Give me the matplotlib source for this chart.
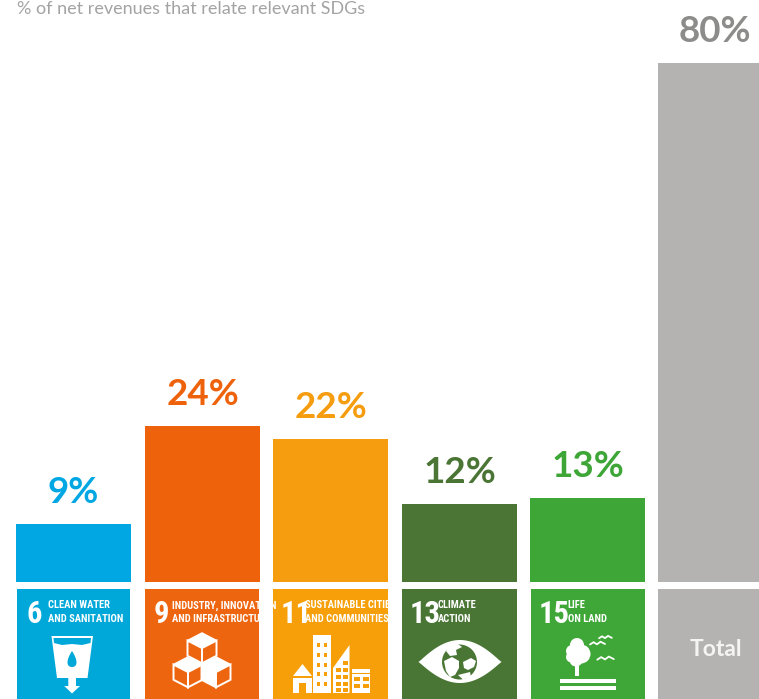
import matplotlib
matplotlib.use("Agg")
import matplotlib.pyplot as plt
from matplotlib.patches import Polygon, Circle, Ellipse, Rectangle, PathPatch
from matplotlib.path import Path
import numpy as np

W, H = 759, 699
DPI = 100

# Chart data
goal_numbers = ["6", "9", "11", "13", "15"]
goal_line1 = ["CLEAN WATER", "INDUSTRY, INNOVATION", "SUSTAINABLE CITIES", "CLIMATE", "LIFE"]
goal_line2 = ["AND SANITATION", "AND INFRASTRUCTURE", "AND COMMUNITIES", "ACTION", "ON LAND"]
goal_values = [9, 24, 22, 12, 13]
total_label = "Total"
total_value = 80
title_text = "% of net revenues that relate relevant SDGs"

# Styling
bar_colors = ["#00A7E3", "#EE620B", "#F59C0F", "#4A7535", "#3DA636"]
tile_colors = ["#00A8D9", "#EE650F", "#F69F08", "#4A7635", "#3FA737"]
value_colors = ["#00A7E3", "#EE620B", "#F59C0F", "#4A7535", "#3DA636"]
grey = "#B4B3B1"
total_text_color = "#8C8C8B"
title_color = "#A3A3A3"
BAR_LEFT = [16, 145, 273, 402, 530, 658]
BAR_RIGHT = [131, 260, 388, 517, 645, 759]
TILE_LEFT = [17, 145, 273, 402, 531, 658]
TILE_RIGHT = [130, 259, 388, 517, 645, 759]
NARROW = ["Liberation Sans Narrow", "Roboto Condensed", "Liberation Sans"]
LABEL_FONT = "Lato"

fig = plt.figure(figsize=(W / DPI, H / DPI), dpi=DPI, facecolor="white")

# Bars: the vertical scale puts 0 at the baseline and 80 at the top of the total bar
ax = fig.add_axes([0, 1 - 582 / H, 1, (582 - 63) / H])
ax.set_xlim(0, W)
ax.set_ylim(0, total_value)
ax.axis("off")
values = goal_values + [total_value]
colors = bar_colors + [grey]
lefts = np.array(BAR_LEFT)
widths = np.array(BAR_RIGHT) - lefts
ax.bar(lefts, values, width=widths, align="edge", color=colors, linewidth=0)
for left, w, v, c in zip(lefts, widths, values, value_colors + [total_text_color]):
    cx = left + w / 2 if v != total_value else 715
    ax.annotate(f"{v}%", (cx, v), xytext=(0, 15), textcoords="offset points",
                ha="center", va="baseline", fontsize=26.5, fontweight="bold",
                family=LABEL_FONT, color=c, annotation_clip=False)

# Tile layer uses pixel coordinates with the origin at the top left
px = fig.add_axes([0, 0, 1, 1], zorder=3)
px.set_xlim(0, W)
px.set_ylim(H, 0)
px.axis("off")
px.patch.set_alpha(0)

px.text(17, 13.5, title_text, ha="left", va="baseline", fontsize=13,
        family=LABEL_FONT, color=title_color)

for i, (l, r) in enumerate(zip(TILE_LEFT, TILE_RIGHT)):
    fc = (tile_colors + [grey])[i]
    px.add_patch(Rectangle((l, 589), r - l, H - 589, fc=fc, ec="none"))

number_x = [27, 154, 281, 410, 539]
label_x = [48.5, 172, 305, 437.5, 567.5]
for n, a, b, nx, lx in zip(goal_numbers, goal_line1, goal_line2, number_x, label_x):
    px.text(nx, 611, n, ha="left", va="center_baseline", fontsize=22, fontweight="bold",
            family=NARROW, color="white")
    px.text(lx, 608.5, a, ha="left", va="baseline", fontsize=7.6, fontweight="bold",
            family=NARROW, color="white")
    px.text(lx, 622, b, ha="left", va="baseline", fontsize=7.6, fontweight="bold",
            family=NARROW, color="white")
px.text(716, 649, total_label, ha="center", va="center", fontsize=16.5, fontweight="bold",
        family=LABEL_FONT, color="#F4F4F3")


def white(poly, fc="white", **kw):
    px.add_patch(Polygon(poly, closed=True, fc=fc, ec="none", **kw))


# Water glass with a drop and an outflow arrow
def glass_icon(fc):
    white([(51.5, 636), (93, 636), (87.5, 678), (57, 678)])
    px.add_patch(Polygon([(53.5, 638), (91, 638), (90.5, 643), (82, 645), (72, 644),
                          (62, 645), (54, 643)], closed=True, fc=fc, ec="none"))
    drop = Path([(72, 651), (66, 660), (66, 667), (72, 667), (78, 667), (78, 660), (72, 651)],
                [Path.MOVETO] + [Path.CURVE4] * 6)
    px.add_patch(PathPatch(drop, fc=fc, ec="none"))
    white([(68.3, 678), (76, 678), (76, 686), (80, 686), (72, 693.5), (64.3, 686), (68.3, 686)])


# Three stacked cubes drawn as outlines
def cubes_icon(fc):
    def cube(cx, top, s, fill_left=False, fill_right=False):
        dx, dy = s, s * 0.52
        T = (cx, top)
        Rr = (cx + dx, top + dy)
        C = (cx, top + 2 * dy)
        Ll = (cx - dx, top + dy)
        B = (cx, top + 2 * dy + s * 1.05)
        BR = (cx + dx, top + dy + s * 1.05)
        BL = (cx - dx, top + dy + s * 1.05)
        px.add_patch(Polygon([T, Rr, C, Ll], closed=True, fc="white", ec="white", lw=1.1))
        px.add_patch(Polygon([Ll, C, B, BL], closed=True,
                             fc="white" if fill_left else fc, ec="white", lw=1.4))
        px.add_patch(Polygon([Rr, C, B, BR], closed=True,
                             fc="white" if fill_right else fc, ec="white", lw=1.4))
    cube(202, 633, 14.5)
    cube(188, 657, 14.5, fill_right=False)
    cube(216, 657, 14.5, fill_left=True)


# City skyline with windows
def city_icon(fc):
    white([(293, 676), (302.5, 664), (312, 676)])
    px.add_patch(Rectangle((293, 677.5), 18.5, 15.5, fc="white", ec="none"))
    px.add_patch(Rectangle((299, 683), 6.5, 10, fc=fc, ec="none"))
    px.add_patch(Rectangle((313, 635), 17.5, 58, fc="white", ec="none"))
    for row in range(5):
        for col in range(2):
            px.add_patch(Rectangle((316.5 + col * 7.3, 643 + row * 9.8), 3.6, 4, fc=fc, ec="none"))
    white([(333, 668), (349.5, 645), (349.5, 693), (333, 693)])
    for yy in [661, 668, 675, 682, 688]:
        for xx in [335.5, 343]:
            if not (yy < 668 and xx < 340):
                px.add_patch(Rectangle((xx, yy), 5.2, 3.6, fc=fc, ec="none"))
    px.add_patch(Rectangle((352, 669), 18, 24, fc="white", ec="none"))
    px.add_patch(Rectangle((352, 673), 18, 1.3, fc=fc, ec="none"))
    for yy in [677, 684]:
        for xx in [354, 363]:
            px.add_patch(Rectangle((xx, yy), 6, 4.3, fc=fc, ec="none"))


# Eye with the globe as its iris
def eye_icon(fc):
    t = np.linspace(-1, 1, 60)
    upper = [(418.5 + (t_ + 1) * 41.5, 662 - 22 * (1 - t_ ** 2) ** 1.1) for t_ in t]
    lower = [(418.5 + (t_ + 1) * 41.5, 662 + 21 * (1 - t_ ** 2) ** 1.1) for t_ in t[::-1]]
    white(upper + lower)
    px.add_patch(Circle((459.5, 662), 17.5, fc=fc, ec="none"))
    white([(449, 646), (457, 643.5), (462, 647), (456, 650), (457, 655), (450, 656), (446, 651)])
    white([(444, 661), (452, 657), (459, 661), (459, 668), (455, 675), (450, 677), (446, 671)])
    white([(463, 662), (471, 658), (476, 661), (474, 667), (468, 670), (464, 668)])
    white([(458, 675), (470, 672), (471, 677), (463, 679.5)])


# Tree, birds and ground lines
def tree_icon(fc):
    for c, r in [((577, 645), 7), ((572, 651), 6), ((581, 654), 9.5), ((571.5, 657), 5.5),
                 ((576, 660), 6.5)]:
        px.add_patch(Circle(c, r, fc="white", ec="none"))
    px.add_patch(Rectangle((575, 666), 3.7, 10, fc="white", ec="none"))
    px.add_patch(Rectangle((560, 679), 55.5, 3.7, fc="white", ec="none"))
    px.add_patch(Rectangle((560, 686), 55.5, 3.7, fc="white", ec="none"))
    for bx, by, s in [(597, 643, 1.0), (605, 637, 0.85), (605, 658, 1.1)]:
        xs = bx + s * np.array([-7, -3.5, 0, 3.5, 8])
        ys = by + s * np.array([1.5, -0.8, 1.3, -1.3, 1])
        px.plot(xs, ys, color="white", lw=1.3, solid_capstyle="round")


for fn, fc in zip([glass_icon, cubes_icon, city_icon, eye_icon, tree_icon], tile_colors):
    fn(fc)

fig.savefig("out.png", dpi=DPI)
